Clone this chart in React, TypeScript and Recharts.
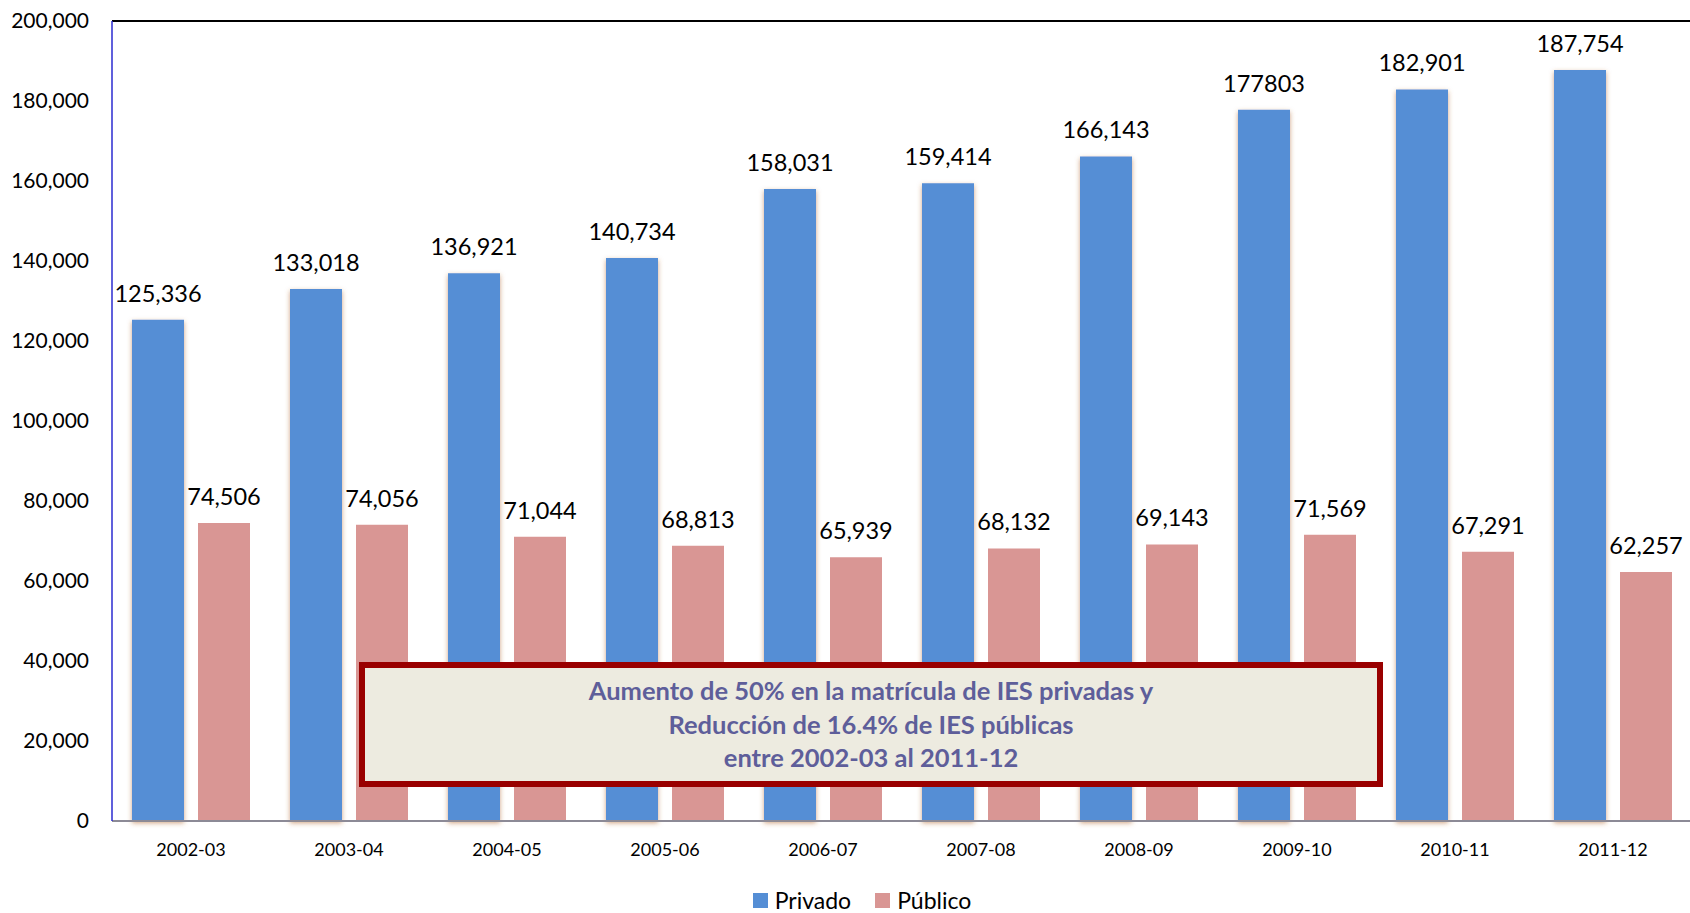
import { BarChart, Bar, XAxis, YAxis, LabelList, Legend, ReferenceLine } from 'recharts';

const categories = ['2002-03', '2003-04', '2004-05', '2005-06', '2006-07', '2007-08', '2008-09', '2009-10', '2010-11', '2011-12'];
const privado = [125336, 133018, 136921, 140734, 158031, 159414, 166143, 177803, 182901, 187754];
const publico = [74506, 74056, 71044, 68813, 65939, 68132, 69143, 71569, 67291, 62257];
// labels as printed in the source (one of them has no thousands separator)
const privadoLabels = ['125,336', '133,018', '136,921', '140,734', '158,031', '159,414', '166,143', '177803', '182,901', '187,754'];
const publicoLabels = ['74,506', '74,056', '71,044', '68,813', '65,939', '68,132', '69,143', '71,569', '67,291', '62,257'];
const yTicks = [0, 20000, 40000, 60000, 80000, 100000, 120000, 140000, 160000, 180000, 200000];
const noteLines = [
  'Aumento de 50% en la matrícula de IES privadas y',
  'Reducción de 16.4% de IES públicas',
  'entre 2002-03 al 2011-12',
];

const FONT = 'Lato, "Open Sans", sans-serif';
const BLUE = '#558ED5';
const PINK = '#D99694';

const chartData = categories.map((year, i) => ({
  year,
  privado: privado[i],
  publico: publico[i],
  privadoLabel: privadoLabels[i],
  publicoLabel: publicoLabels[i],
}));

const renderLegend = () => (
  <div style={{ display: 'flex', justifyContent: 'center', paddingTop: 23, marginLeft: 32, fontFamily: FONT, fontSize: 23, lineHeight: '23px', color: '#000' }}>
    {[{ name: 'Privado', color: BLUE }, { name: 'Público', color: PINK }].map((it) => (
      <div key={it.name} style={{ display: 'flex', alignItems: 'center', margin: '0 12px' }}>
        <span style={{ width: 15, height: 15, background: it.color, display: 'inline-block', marginRight: 7 }} />
        <span>{it.name}</span>
      </div>
    ))}
  </div>
);

export default function App() {
  return (
    <div style={{ position: 'absolute', left: 0, top: 0, width: 1690, height: 913, overflow: 'hidden', background: '#fff' }}>
      <BarChart
        width={1692}
        height={913}
        data={chartData}
        margin={{ top: 21, right: 0, left: 0, bottom: 0 }}
        barSize={52}
        barGap={14}
      >
        <defs>
          <filter id="barGlow" x="-30%" y="-5%" width="160%" height="110%">
            <feDropShadow dx="0" dy="2" stdDeviation="2.5" floodColor="#b0652e" floodOpacity="0.6" />
          </filter>
        </defs>
        <XAxis
          dataKey="year"
          axisLine={{ stroke: '#8c8a96', strokeWidth: 2 }}
          tickLine={false}
          tickSize={0}
          tickMargin={22}
          height={45}
          tick={{ fill: '#000', fontSize: 18, fontFamily: FONT }}
        />
        <YAxis
          domain={[0, 200000]}
          ticks={yTicks}
          width={112}
          axisLine={{ stroke: '#2b2bd0', strokeWidth: 1.5 }}
          tickLine={false}
          tickSize={0}
          tickMargin={23}
          tick={{ fill: '#000', fontSize: 21, fontFamily: FONT }}
          tickFormatter={(v: number) => v.toLocaleString('en-US')}
        />
        <ReferenceLine y={200000} stroke="#000" strokeWidth={2} />
        <Legend verticalAlign="bottom" height={47} content={renderLegend} />
        <Bar dataKey="privado" name="Privado" fill={BLUE} filter="url(#barGlow)" isAnimationActive={false}>
          <LabelList dataKey="privadoLabel" position="top" offset={18} fill="#000" fontSize={23.5} fontFamily={FONT} />
        </Bar>
        <Bar dataKey="publico" name="Público" fill={PINK} isAnimationActive={false}>
          <LabelList dataKey="publicoLabel" position="top" offset={18} fill="#000" fontSize={23.5} fontFamily={FONT} />
        </Bar>
      </BarChart>
      <div
        style={{
          position: 'absolute',
          left: 359,
          top: 662,
          width: 1024,
          height: 125,
          boxSizing: 'border-box',
          border: '6px solid #990000',
          background: '#EDEBE0',
          color: '#5E5E9A',
          fontFamily: FONT,
          fontWeight: 700,
          fontSize: 25.5,
          lineHeight: '33.5px',
          textAlign: 'center',
          paddingTop: 6,
        }}
      >
        {noteLines.map((l) => (
          <div key={l}>{l}</div>
        ))}
      </div>
    </div>
  );
}
